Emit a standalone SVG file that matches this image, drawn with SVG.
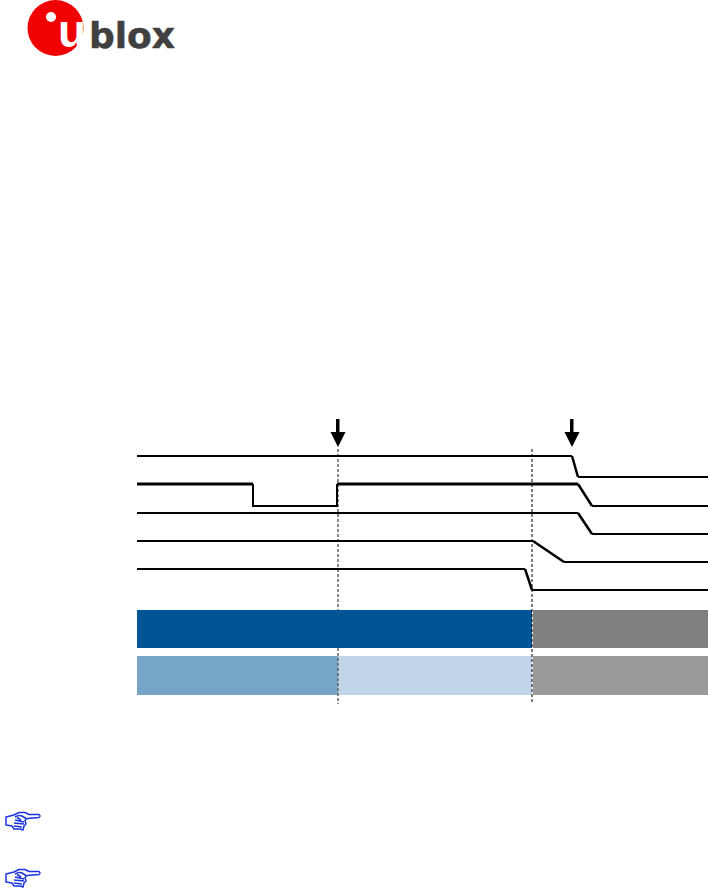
<svg xmlns="http://www.w3.org/2000/svg" width="708" height="888" viewBox="0 0 708 888">
<defs>
<style>
.sig{fill:none;stroke:#000;stroke-width:2}
.thick{stroke-width:3}
.slant{stroke-width:2.500}
.guide{fill:none;stroke:#000;stroke-width:1;stroke-dasharray:3 2}
.guide2{stroke:#666;stroke-width:1.500}
.hand path{fill:none;stroke:#1a35e0;stroke-width:1.500;stroke-linejoin:round}
</style>
<g id="handIcon" class="hand">
<path d="M3 6 L11 4 L16 1.500 L22 1.500 L26 3.500 L36 3.500 Q38 5 36 6.500 L24 7.500 L22 9.500 L23 13 L21 15 L20 19 L17 18 L11 18 L9 15 L3 14 Z"/>
<path d="M12 6 Q16 3.500 19 5 L23 7.500 M12 9 L21 11 M11 12 L21 13 M11 15 L19 16 M14 6.500 L18 9"/>
</g>
</defs>
<g id="logo">
<circle cx="55.500" cy="28" r="28" fill="#f00000"/>
<circle cx="51" cy="17" r="5" fill="#fff"/>
<text x="58" y="47" font-family="'Liberation Sans',sans-serif" font-weight="700" font-size="46" fill="#fff">u</text>
<text x="89" y="48" font-family="'DejaVu Sans',sans-serif" font-weight="700" font-size="36" fill="#404040" stroke="#404040" stroke-width="0.500">blox</text>
</g>
<g id="bar-top">
<rect x="137" y="610" width="395" height="38" fill="#005596"/>
<rect x="533" y="610" width="175" height="38" fill="#808080"/>
</g>
<g id="bar-bottom">
<rect x="137" y="656" width="201" height="39" fill="#76a5c8"/>
<rect x="338" y="656" width="194" height="39" fill="#c0d5e7"/>
<rect x="533" y="656" width="175" height="39" fill="#999999"/>
</g>
<g id="connectors">
<path class="guide guide2" d="M338 449V610M338 648V704"/>
<path class="guide" d="M532 449V704"/>
<path class="sig" d="M137 456H572"/>
<path class="sig slant" d="M572 456L578 477"/>
<path class="sig" d="M578 477H708"/>
<path class="sig thick" d="M137 484H253"/>
<path class="sig" d="M253 484V506H337V484"/>
<path class="sig thick" d="M337 484H578"/>
<path class="sig slant" d="M578 484L592 506"/>
<path class="sig" d="M592 506H708"/>
<path class="sig" d="M137 513H578"/>
<path class="sig slant" d="M578 513L592 534"/>
<path class="sig" d="M592 534H708"/>
<path class="sig" d="M137 541H533"/>
<path class="sig slant" d="M533 541L564 562"/>
<path class="sig" d="M564 562H708"/>
<path class="sig" d="M137 569H525"/>
<path class="sig slant" d="M525 569L532 590"/>
<path class="sig" d="M532 590H708"/>
<path d="M336 419h3.500v13h6l-7.500 15l-7.500-15h5.500z" fill="#000"/>
<path d="M570 419h3.500v13h6l-7.500 15l-7.500-15h5.500z" fill="#000"/>
</g>
<g id="note-1"><use href="#handIcon" x="3" y="811"/></g>
<g id="note-2"><use href="#handIcon" x="3" y="868"/></g>
</svg>
